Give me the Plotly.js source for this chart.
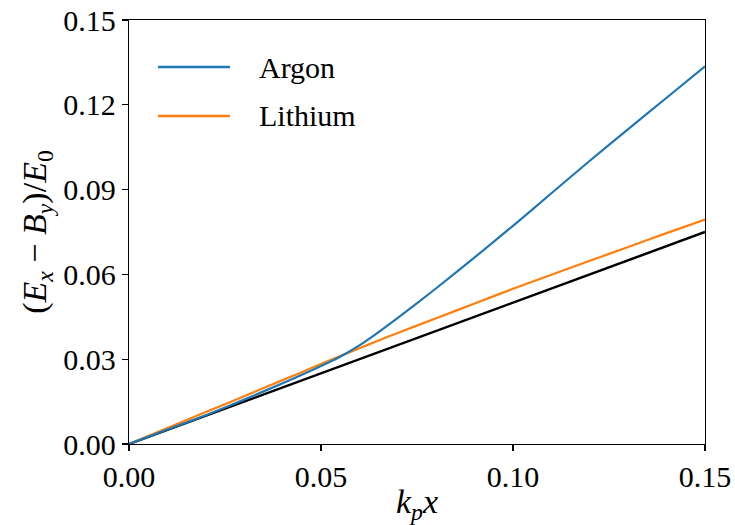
<!DOCTYPE html>
<html>
<head>
<meta charset="utf-8">
<script src="https://cdn.plot.ly/plotly-3.0.1.min.js"></script>
<style>
  html, body { margin: 0; padding: 0; background: #fff; }
  #chart { width: 735px; height: 525px; }
</style>
</head>
<body>
<div id="chart"></div>
<script>
// Normalised position k_p x
const kpx = [0, 0.01, 0.02, 0.03, 0.04, 0.045, 0.05, 0.055, 0.06, 0.065, 0.07, 0.08, 0.09, 0.10, 0.11, 0.12, 0.13, 0.14, 0.15];

// (E_x - B_y)/E_0 for each gas
const argon = [0, 0.0051, 0.0102, 0.0157, 0.0215, 0.0245, 0.0276, 0.0309, 0.0349, 0.0396, 0.0446, 0.0551, 0.0660, 0.0772, 0.0887, 0.1002, 0.1114, 0.1225, 0.1336];
const lithium = [0, 0.0057, 0.0113, 0.0169, 0.0226, 0.0254, 0.0283, 0.0311, 0.0339, 0.0366, 0.0393, 0.0445, 0.0497, 0.0549, 0.0599, 0.0648, 0.0697, 0.0746, 0.0794];
// Vacuum reference
const vacuum = [0, 0.005, 0.010, 0.015, 0.020, 0.0225, 0.025, 0.0275, 0.030, 0.0325, 0.035, 0.040, 0.045, 0.050, 0.055, 0.060, 0.065, 0.070, 0.075];

const seriesNames = ['Argon', 'Lithium'];
const xTicks = [0, 0.05, 0.10, 0.15];
const xTickText = ['0.00', '0.05', '0.10', '0.15'];
const yTicks = [0, 0.03, 0.06, 0.09, 0.12, 0.15];
const yTickText = ['0.00', '0.03', '0.06', '0.09', '0.12', '0.15'];

const colors = ['#1f77b4', '#ff7f0e'];
const FONT = 'Liberation Serif';

const traces = [
  { x: kpx, y: vacuum, mode: 'lines', line: { color: '#000000', width: 2.5 }, hoverinfo: 'skip' },
  { x: kpx, y: lithium, mode: 'lines', name: seriesNames[1], line: { color: colors[1], width: 2.2, shape: 'spline', smoothing: 0.6 } },
  { x: kpx, y: argon, mode: 'lines', name: seriesNames[0], line: { color: colors[0], width: 2.2, shape: 'spline', smoothing: 0.6 } }
];

// Hand-placed legend: long sample lines with labels beside them
const legendRows = [0.889, 0.7736];
const shapes = [];
const annotations = [];
seriesNames.forEach((name, i) => {
  shapes.push({ type: 'line', xref: 'paper', yref: 'paper', x0: 0.0503, x1: 0.1753, y0: legendRows[i], y1: legendRows[i],
                line: { color: colors[i], width: 2.4 } });
  annotations.push({ xref: 'paper', yref: 'paper', x: 0.222, y: legendRows[i], xanchor: 'left', yanchor: 'middle',
                     text: name, showarrow: false, font: { family: FONT, size: 30, color: '#000' } });
});

const axisCommon = {
  showgrid: false, zeroline: false, showline: true, mirror: true,
  linecolor: '#000', linewidth: 1.3,
  ticks: 'outside', ticklen: 6, tickwidth: 1.3, tickcolor: '#000',
  tickfont: { family: FONT, size: 30, color: '#000' }
};

const layout = {
  width: 735, height: 525,
  margin: { l: 129, r: 30, t: 20, b: 81 },
  paper_bgcolor: '#fff', plot_bgcolor: '#fff',
  font: { family: FONT },
  xaxis: Object.assign({}, axisCommon, {
    range: [0, 0.15], tickvals: xTicks, ticktext: xTickText,
    title: { text: '<i>k</i><sub><i>p</i></sub><i>x</i>', font: { family: FONT, size: 34, color: '#000' }, standoff: 4 }
  }),
  yaxis: Object.assign({}, axisCommon, {
    range: [0, 0.15], tickvals: yTicks, ticktext: yTickText,
    title: { text: '(<i>E</i><sub><i>x</i></sub> − <i>B</i><sub><i>y</i></sub>)/<i>E</i><sub>0</sub>', font: { family: FONT, size: 34, color: '#000' }, standoff: 6 }
  }),
  shapes: shapes,
  annotations: annotations,
  showlegend: false
};

Plotly.newPlot('chart', traces, layout, { displayModeBar: false, staticPlot: true });
</script>
</body>
</html>
